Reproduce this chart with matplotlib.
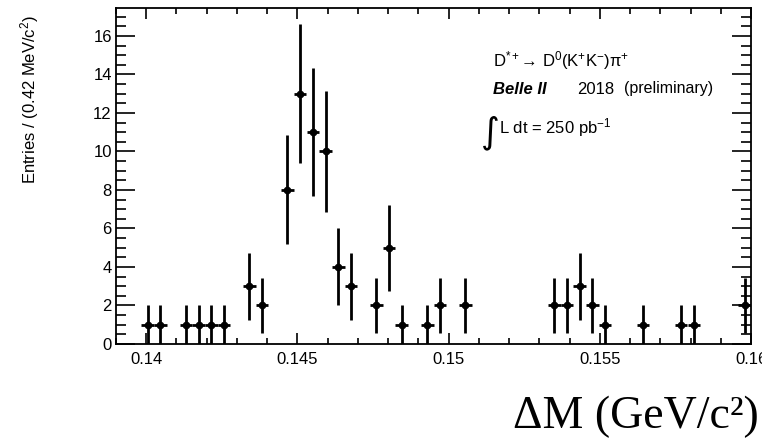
import numpy as np
import matplotlib.pyplot as plt
from matplotlib.ticker import MultipleLocator

# Istogramma Delta M: 50 bin da 0.139 a 0.160 GeV/c^2 (0.42 MeV/c^2 per bin)
x_min = 0.139
x_max = 0.160
n_bins = 50
counts = [0, 0, 1, 1, 0, 1, 1, 1, 1, 0,
          3, 2, 0, 8, 13, 11, 10, 4, 3, 0,
          2, 5, 1, 0, 1, 2, 0, 2, 0, 0,
          0, 0, 0, 0, 2, 2, 3, 2, 1, 0,
          0, 1, 0, 0, 1, 1, 0, 0, 0, 2]
x_ticks = [0.14, 0.145, 0.15, 0.155, 0.16]
x_tick_labels = ['0.14', '0.145', '0.15', '0.155', '0.16']
y_ticks = [0, 2, 4, 6, 8, 10, 12, 14, 16]

plt.rcParams['font.family'] = ['Liberation Sans', 'DejaVu Sans']
plt.rcParams['mathtext.fontset'] = 'custom'
plt.rcParams['mathtext.rm'] = 'Liberation Sans'
plt.rcParams['mathtext.it'] = 'Liberation Sans:italic'
plt.rcParams['mathtext.bf'] = 'Liberation Sans:bold'

W, H = 762, 442
fig = plt.figure(figsize=(W / 100, H / 100), dpi=100)
ax = fig.add_axes([116 / W, 1 - 344 / H, (751 - 116) / W, (344 - 8) / H])

edges = np.linspace(x_min, x_max, n_bins + 1)
centers = 0.5 * (edges[:-1] + edges[1:])
half_w = 0.5 * (edges[1] - edges[0])
counts = np.array(counts, dtype=float)
mask = counts > 0

ax.errorbar(centers[mask], counts[mask], yerr=np.sqrt(counts[mask]), xerr=half_w,
            fmt='o', color='black', ms=4.5, elinewidth=2, capsize=0)

ax.set_xlim(x_min, x_max)
ax.set_ylim(0, 17.45)
ax.set_xticks(x_ticks)
ax.set_xticklabels(x_tick_labels)
ax.set_yticks(y_ticks)
ax.xaxis.set_minor_locator(MultipleLocator(0.001))
ax.yaxis.set_minor_locator(MultipleLocator(0.5))
ax.tick_params(axis='both', which='both', direction='in', top=True, right=True,
               labelsize=12, width=1.2)
ax.tick_params(axis='x', which='major', length=8, pad=6)
ax.tick_params(axis='x', which='minor', length=4.3)
ax.tick_params(axis='y', which='major', length=13.5, pad=3)
ax.tick_params(axis='y', which='minor', length=7)
for s in ax.spines.values():
    s.set_linewidth(1.3)

# Etichette degli assi
fig.text(30 / W, 1 - 100 / H, 'Entries / (0.42 MeV/c$^{2}$)', rotation=90,
         ha='center', va='center', fontsize=12)
fig.text(513 / W, 1 - 428 / H, 'ΔM (GeV/c²)', ha='left', va='baseline',
         fontsize=33, family=['Liberation Serif', 'DejaVu Serif'])

# Testo dentro il grafico
fig.text(493 / W, 1 - 61 / H, 'D$^{*+}$→ D$^{0}$(K$^{+}$K$^{-}$)π$^{+}$',
         ha='left', va='center', fontsize=12)
fig.text(493 / W, 1 - 89 / H, 'Belle II', ha='left', va='center', fontsize=12,
         fontweight='bold', fontstyle='italic')
fig.text(577 / W, 1 - 89 / H, '2018', ha='left', va='center', fontsize=12)
fig.text(624 / W, 1 - 89 / H, '(preliminary)', ha='left', va='center', fontsize=11.5)
fig.text(481 / W, 1 - 133 / H, '∫', ha='left', va='center', fontsize=26,
         family=['DejaVu Sans'])
fig.text(499 / W, 1 - 128 / H, 'L dt = 250 pb$^{-1}$', ha='left', va='center', fontsize=12)

fig.savefig('out.png', dpi=100)
